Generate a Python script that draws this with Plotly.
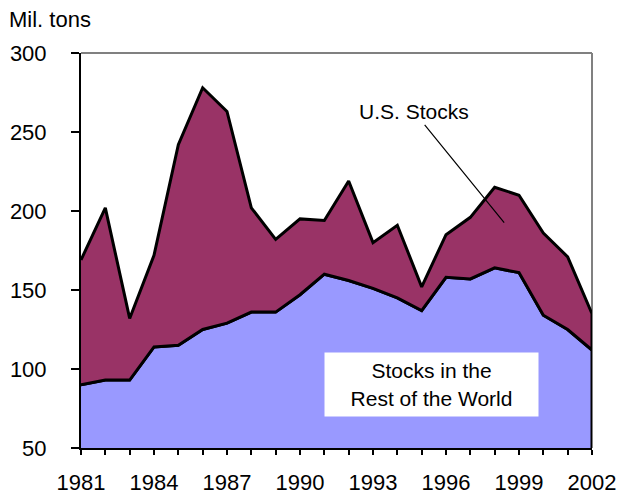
import plotly.graph_objects as go

years = list(range(1981, 2003))
rest_of_world = [90, 93, 93, 114, 115, 125, 129, 136, 136, 147, 160,
                 156, 151, 145, 137, 158, 157, 164, 161, 134, 125, 112]
us_stocks_top = [169, 202, 132, 172, 242, 278, 263, 202, 182, 195, 194,
                 219, 180, 191, 152, 185, 196, 215, 210, 186, 171, 135]
tick_labels = [str(y) if (y - 1981) % 3 == 0 else "" for y in years]

font = dict(family="Liberation Sans, Arial, sans-serif", size=22, color="#000000")
note_font = dict(family="Liberation Sans, Arial, sans-serif", size=21, color="#000000")

fig = go.Figure()

# each area drawn as a closed polygon so the outline runs round it
fig.add_trace(go.Scatter(
    x=years + years[::-1],
    y=rest_of_world + [0] * len(years),
    fill="toself",
    fillcolor="#9999FF",
    line=dict(color="#000000", width=3),
    mode="lines",
    hoverinfo="skip",
    name="Rest of World",
))
fig.add_trace(go.Scatter(
    x=years + years[::-1],
    y=us_stocks_top + rest_of_world[::-1],
    fill="toself",
    fillcolor="#993366",
    line=dict(color="#000000", width=3),
    mode="lines",
    hoverinfo="skip",
    name="U.S. Stocks",
))

fig.update_layout(
    width=619,
    height=498,
    margin=dict(l=81, r=27, t=53, b=50),
    paper_bgcolor="white",
    plot_bgcolor="white",
    showlegend=False,
    font=font,
    xaxis=dict(
        range=[1981, 2002],
        tickmode="array",
        tickvals=years,
        ticktext=tick_labels,
        ticks="outside",
        ticklen=5,
        tickwidth=1.5,
        tickcolor="#000000",
        ticklabelstandoff=9,
        ticklabeloverflow="allow",
        automargin=False,
        showline=True,
        linecolor="#000000",
        linewidth=2,
        showgrid=False,
        zeroline=False,
    ),
    yaxis=dict(
        range=[50, 300],
        tickvals=[50, 100, 150, 200, 250, 300],
        ticks="outside",
        ticklen=8,
        tickwidth=1.5,
        tickcolor="#000000",
        ticklabelstandoff=20,
        automargin=False,
        showline=True,
        linecolor="#000000",
        linewidth=2,
        showgrid=False,
        zeroline=False,
    ),
    shapes=[
        dict(type="line", xref="paper", yref="paper", x0=0, x1=1, y0=1, y1=1,
             line=dict(color="#808080", width=2), layer="below"),
        dict(type="line", xref="paper", yref="paper", x0=1, x1=1, y0=0, y1=1,
             line=dict(color="#808080", width=2), layer="below"),
    ],
    annotations=[
        dict(text="Mil. tons", xref="paper", yref="paper", x=-0.144, y=1.085,
             xanchor="left", yanchor="middle", showarrow=False, font=font),
        dict(text="U.S. Stocks", x=1998.39, y=192.6, ax=1994.69, ay=262.8,
             axref="x", ayref="y", showarrow=True, arrowhead=0, arrowwidth=1.2,
             arrowcolor="#000000", font=note_font),
        dict(text="Stocks in the<br>Rest of the World", x=1995.41, y=90.25,
             showarrow=False, bgcolor="white", width=213, height=63,
             borderpad=0, font=note_font),
    ],
)

fig.write_html(
    "out.html",
    config={"displayModeBar": False},
    post_script="document.body.style.margin='0px';",
)
